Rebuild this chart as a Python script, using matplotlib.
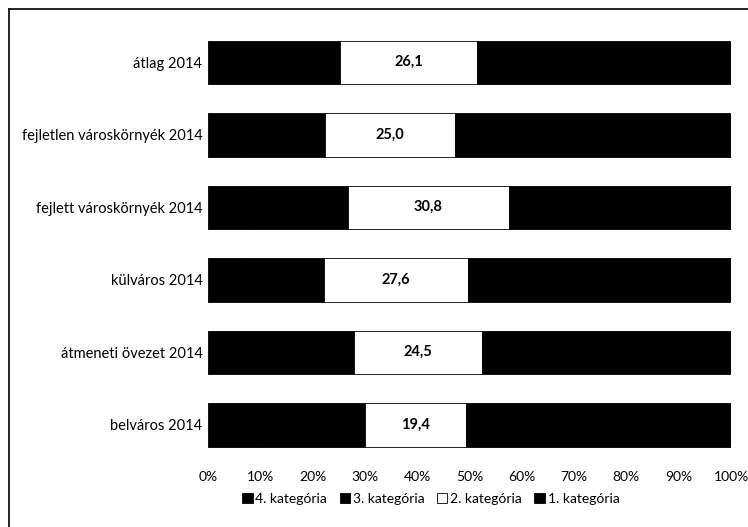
import numpy as np
import matplotlib.pyplot as plt
from matplotlib.lines import Line2D

plt.rcParams['font.family'] = ['Lato', 'DejaVu Sans']

# Adatok (felülről lefelé)
kategoriak = ["átlag 2014", "fejletlen városkörnyék 2014", "fejlett városkörnyék 2014",
              "külváros 2014", "átmeneti övezet 2014", "belváros 2014"]
kat4 = [8.0, 7.0, 8.5, 7.0, 9.0, 10.0]
kat3 = [17.3, 15.3, 18.2, 15.2, 18.9, 20.0]
kat2 = [26.1, 25.0, 30.8, 27.6, 24.5, 19.4]
kat1 = [100 - a - b - c for a, b, c in zip(kat4, kat3, kat2)]

sorozatok = ["4. kategória", "3. kategória", "2. kategória", "1. kategória"]
szinek = ["#000000", "#000000", "#ffffff", "#000000"]

fig = plt.figure(figsize=(7.48, 5.27), dpi=100)
ax = fig.add_axes([208 / 748, 1 - 461 / 527, 523 / 748, 435 / 527])

y = np.arange(len(kategoriak))
bal = np.zeros(len(kategoriak))
for nev, ertek, szin in zip(sorozatok, [kat4, kat3, kat2, kat1], szinek):
    bars = ax.barh(y, ertek, left=bal, height=0.6, color=szin,
                   edgecolor="#000000", linewidth=0.6, label=nev)
    if nev == "2. kategória":
        for b, v in zip(bars, ertek):
            ax.text(b.get_x() + b.get_width() / 2, b.get_y() + b.get_height() / 2,
                    f"{v:.1f}".replace(".", ","), ha="center", va="center",
                    fontsize=10.5, fontweight="bold", color="black")
    bal += np.array(ertek)

ax.set_xlim(0, 100)
ax.set_ylim(len(kategoriak) - 0.5, -0.5)
ax.set_yticks(y)
ax.set_yticklabels(kategoriak, fontsize=10.5)
ax.set_xticks(np.arange(0, 101, 10))
ax.set_xticklabels([f"{t}%" for t in range(0, 101, 10)], fontsize=10)
ax.tick_params(length=0, pad=4)
ax.tick_params(axis="x", pad=7)
for s in ax.spines.values():
    s.set_visible(False)

ax.legend(loc="upper center", bbox_to_anchor=(0.426, -0.058), ncol=4, frameon=False,
          fontsize=10, handlelength=0.75, handleheight=0.75, handletextpad=0.2,
          columnspacing=0.9, borderpad=0)

# külső keret (bal és felső él látszik)
fig.add_artist(Line2D([9 / 748, 9 / 748], [0, 1 - 9 / 527], transform=fig.transFigure,
                      color="black", linewidth=1.2))
fig.add_artist(Line2D([9 / 748, 1], [1 - 9 / 527, 1 - 9 / 527], transform=fig.transFigure,
                      color="black", linewidth=1.2))

fig.savefig("out.png", dpi=100)
